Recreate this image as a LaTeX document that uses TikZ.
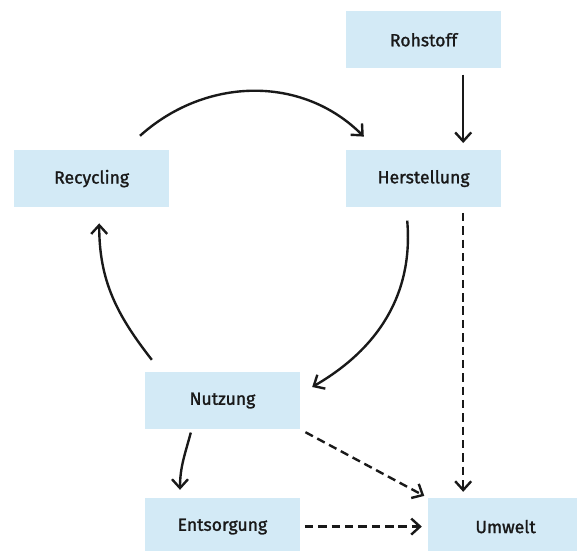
\documentclass[tikz,border=0pt]{standalone}
\usepackage{fontspec}
\setmainfont{Fira Sans}
\newfontfamily\stagefont{Fira Sans}[FakeBold=1.4]
\usetikzlibrary{arrows.meta}
\definecolor{boxblue}{RGB}{211,234,246}
\definecolor{ink}{RGB}{25,25,25}
\tikzset{
	stage/.style={fill=boxblue, minimum width=3.875cm, minimum height=1.425cm, inner sep=0pt, text=ink, font=\stagefont\fontsize{12.5}{15}\selectfont},
	flow/.style={line width=1.7pt, draw=ink, -{Straight Barb[length=2.2mm,width=4mm]}},
	leak/.style={flow, dash pattern=on 6pt off 3.5pt}
}

\begin{document}
\begin{tikzpicture}
	%%%%% START %%%%%
	
	\useasboundingbox (0, 0) rectangle (14.425, 13.775);
	
	\node[stage] (rohstoff) at (10.59, 12.78) {Rohstoff};
	\node[stage] (herstellung) at (10.59, 9.31) {Herstellung};
	\node[stage] (recycling) at (2.29, 9.31) {Recycling};
	\node[stage] (nutzung) at (5.56, 3.76) {Nutzung};
	\node[stage] (entsorgung) at (5.56, 0.61) {Entsorgung};
	\node[stage] (umwelt) at (12.64, 0.61) {Umwelt};
	
	\draw[flow, shorten <=0.15cm, shorten >=0.17cm] ([xshift=0.99cm]rohstoff.south) -- ([xshift=0.99cm]herstellung.north);
	
	\draw[flow] ([xshift=1.21cm, yshift=0.35cm]recycling.north) to[out=42, in=135] ([xshift=0.45cm, yshift=0.33cm]herstellung.north west);
	\draw[flow] ([xshift=-0.41cm, yshift=-0.33cm]herstellung.south) to[out=-85, in=30] ([xshift=0.3cm, yshift=0.34cm]nutzung.east);
	\draw[flow] ([xshift=0.18cm, yshift=0.3cm]nutzung.north west) to[out=128, in=-90] ([xshift=0.19cm, yshift=-0.4cm]recycling.south);
	
	\draw[flow] ([xshift=-0.79cm, yshift=-0.08cm]nutzung.south) to[out=-105, in=90] ([xshift=-1.06cm, yshift=0.2cm]entsorgung.north);
	
	\draw[leak, shorten <=0.14cm, shorten >=0.15cm] ([xshift=0.99cm]herstellung.south) -- ([xshift=0.99cm]herstellung.south |- umwelt.north);
	\draw[leak, shorten <=0.15cm, shorten >=0.1cm] (nutzung.south east) -- (umwelt.north west);
	\draw[leak, shorten <=0.12cm, shorten >=0.15cm] (entsorgung.east) -- (umwelt.west);
	
	%%%%% END %%%%%
\end{tikzpicture}
\end{document}
